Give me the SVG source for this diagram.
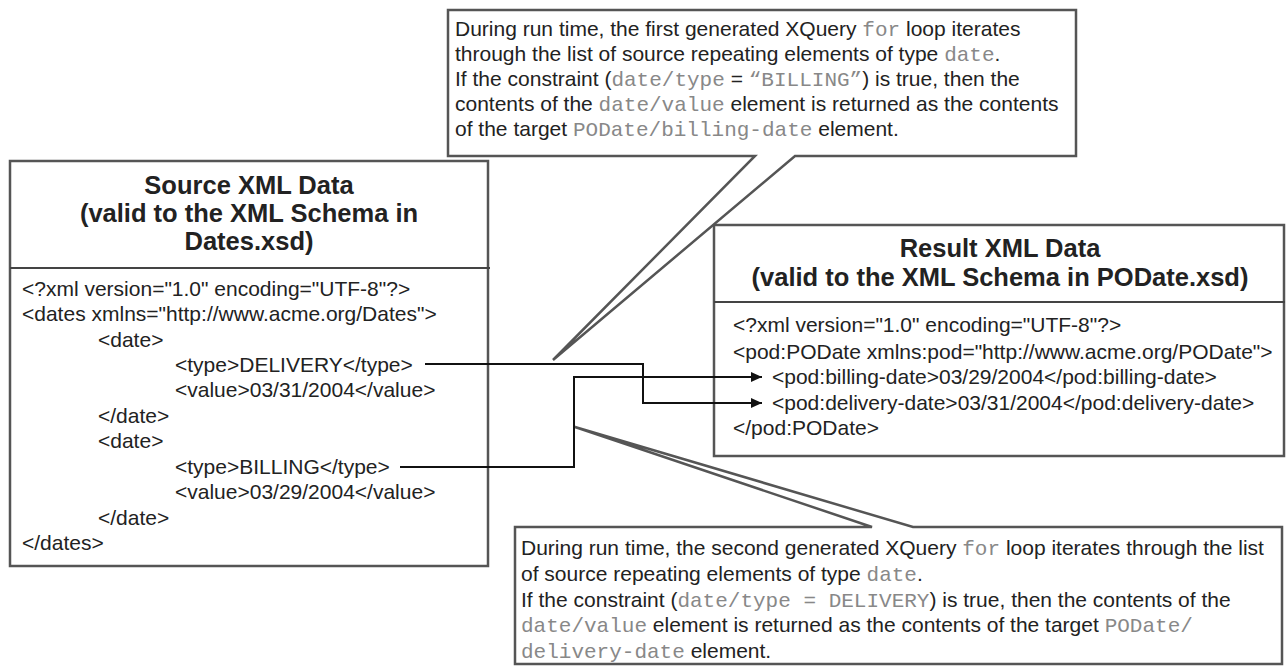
<svg xmlns="http://www.w3.org/2000/svg" width="1286" height="668" viewBox="0 0 1286 668">
<defs>
<style>
.box{fill:#fff;stroke:#555;stroke-width:2.5}
.div{stroke:#444;stroke-width:2}
.t{font-family:"Liberation Sans",Arial,sans-serif;fill:#222}
.title{font-family:"Liberation Sans",Arial,sans-serif;font-weight:bold;fill:#222;text-anchor:middle}
.code{font-family:"Liberation Mono","Courier New",monospace;fill:#888}
.conn{fill:none;stroke:#111;stroke-width:2}
</style>
<marker id="arr" viewBox="0 0 11 10" refX="11" refY="5" markerWidth="11" markerHeight="10" markerUnits="userSpaceOnUse" orient="auto">
<path d="M0,0 L11,5 L0,10 Z" fill="#111"/>
</marker>
</defs>
<rect width="1286" height="668" fill="#fff"/>

<g id="source">
<rect class="box" x="10" y="161" width="478" height="405"/>
<line class="div" x1="10" y1="268" x2="490" y2="268"/>
<text class="title" font-size="25.5" x="249" y="194">Source XML Data</text>
<text class="title" font-size="25.5" x="249" y="222">(valid to the XML Schema in</text>
<text class="title" font-size="25.5" x="249" y="250">Dates.xsd)</text>
<g class="t" font-size="21">
<text x="22" y="296">&lt;?xml version="1.0" encoding="UTF-8"?&gt;</text>
<text x="22" y="321">&lt;dates xmlns="http://www.acme.org/Dates"&gt;</text>
<text x="98" y="347">&lt;date&gt;</text>
<text x="175" y="372">&lt;type&gt;DELIVERY&lt;/type&gt;</text>
<text x="175" y="397">&lt;value&gt;03/31/2004&lt;/value&gt;</text>
<text x="98" y="423">&lt;/date&gt;</text>
<text x="98" y="448">&lt;date&gt;</text>
<text x="175" y="474">&lt;type&gt;BILLING&lt;/type&gt;</text>
<text x="175" y="499">&lt;value&gt;03/29/2004&lt;/value&gt;</text>
<text x="98" y="525">&lt;/date&gt;</text>
<text x="22" y="550">&lt;/dates&gt;</text>
</g>
</g>

<g id="result">
<rect class="box" x="714" y="225" width="570" height="231"/>
<line class="div" x1="714" y1="302" x2="1285" y2="302"/>
<text class="title" font-size="25.5" x="1000" y="257">Result XML Data</text>
<text class="title" font-size="25.5" x="1000" y="286">(valid to the XML Schema in PODate.xsd)</text>
<g class="t" font-size="21">
<text x="733" y="332">&lt;?xml version="1.0" encoding="UTF-8"?&gt;</text>
<text x="733" y="359">&lt;pod:PODate xmlns:pod="http://www.acme.org/PODate"&gt;</text>
<text x="772" y="384">&lt;pod:billing-date&gt;03/29/2004&lt;/pod:billing-date&gt;</text>
<text x="772" y="410">&lt;pod:delivery-date&gt;03/31/2004&lt;/pod:delivery-date&gt;</text>
<text x="733" y="435">&lt;/pod:PODate&gt;</text>
</g>
</g>

<g id="callout-top">
<path class="box" d="M448,10 H1076 V156 H795 L553,360 L755,156 H448 Z"/>
<g class="t" font-size="21">
<text x="455" y="36">During run time, the first generated XQuery <tspan class="code">for</tspan> loop iterates</text>
<text x="455" y="61">through the list of source repeating elements of type <tspan class="code">date</tspan>.</text>
<text x="455" y="86">If the constraint (<tspan class="code">date/type</tspan> = <tspan class="code">“BILLING”</tspan>) is true, then the</text>
<text x="455" y="111">contents of the <tspan class="code">date/value</tspan> element is returned as the contents</text>
<text x="455" y="136">of the target <tspan class="code">PODate/billing-date</tspan> element.</text>
</g>
</g>

<g id="callout-bottom">
<path class="box" d="M515,527 H872 L575,427 L913,527 H1282 V664 H515 Z"/>
<g class="t" font-size="21">
<text x="521" y="555">During run time, the second generated XQuery <tspan class="code">for</tspan> loop iterates through the list</text>
<text x="521" y="581">of source repeating elements of type <tspan class="code">date</tspan>.</text>
<text x="521" y="607">If the constraint (<tspan class="code">date/type = DELIVERY</tspan>) is true, then the contents of the</text>
<text x="521" y="632"><tspan class="code">date/value</tspan> element is returned as the contents of the target <tspan class="code">PODate/</tspan></text>
<text x="521" y="658"><tspan class="code">delivery-date</tspan> element.</text>
</g>
</g>

<g id="connectors">
<path class="conn" d="M425,364 H643 V403 H762" marker-end="url(#arr)"/>
<path class="conn" d="M400,467 H574 V377 H762" marker-end="url(#arr)"/>
</g>
</svg>
